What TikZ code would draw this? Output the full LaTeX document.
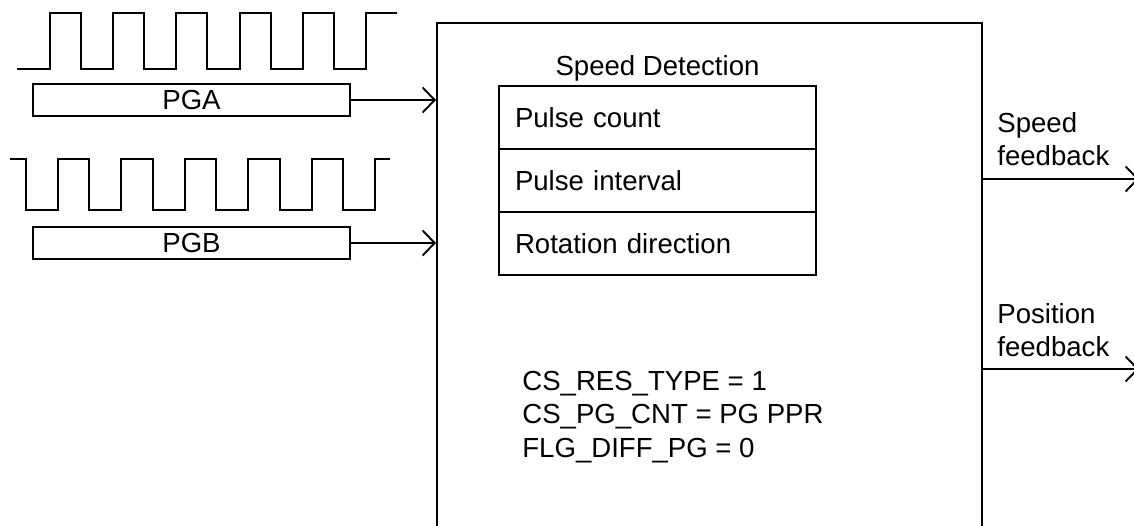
\documentclass[tikz,border=0pt]{standalone}
\usepackage{fontspec}
\setmainfont{Liberation Sans}
\usetikzlibrary{arrows.meta,positioning}
\tikzset{
    wire/.style   = {line width=1.1pt, line join=miter},
    feed/.style   = {wire, -{Straight Barb[length=0.24cm, width=0.5cm, line width=1.1pt]}},
    pgbox/.style  = {draw, line width=1.1pt, minimum width=6.34cm, minimum height=0.64cm, inner sep=0pt},
    rowbox/.style = {draw, line width=1.1pt, text width=5.7cm, inner xsep=0.32cm, inner ysep=0pt,
                     minimum height=1.26cm, align=left, outer sep=0pt},
    txt/.style    = {inner sep=0pt, align=left},
}
\begin{document}
\begin{tikzpicture}[x=0.02cm, y=-0.02cm, font=\fontsize{15.7}{19}\selectfont]
        \useasboundingbox (0,0) rectangle (1134,525);
        % pulse trains
        \draw[wire] (17,69) \foreach \k in {0,...,4} { -- ({50+63.2*\k},69) -- ({50+63.2*\k},13)
                 -- ({81+63.2*\k},13) -- ({81+63.2*\k},69) } -- (366,69) -- (366,13) -- (397,13);
        \draw[wire] (10,159) \foreach \k in {0,...,5} { -- ({26+63.4*\k},159) -- ({26+63.4*\k},210)
                 -- ({58+63.4*\k},210) -- ({58+63.4*\k},159) } -- (390,159);
        % inputs
        \node[pgbox] (pga) at (191.5,100) {PGA};
        \node[pgbox] (pgb) at (191.5,243) {PGB};
        % main block, open at the bottom
        \node[draw, line width=1.1pt, minimum width=10.9cm, minimum height=10.8cm, anchor=north west,
              inner sep=0pt] (main) at (436,22) {};
        \draw[feed] (pga.east) -- (pga.east -| main.west);
        \draw[feed] (pgb.east) -- (pgb.east -| main.west);
        % speed detection table
        \node[rowbox, anchor=north west] (cnt) at (499,86) {Pulse count};
        \node[rowbox, below=0pt of cnt]  (ivl) {Pulse interval};
        \node[rowbox, below=0pt of ivl]  (dir) {Rotation direction};
        \node[txt] (title) at (657.5,68) {Speed Detection};
        \node[txt, anchor=west] (param) at (522,417)
             {CS\_RES\_TYPE = 1\\CS\_PG\_CNT = PG PPR\\FLG\_DIFF\_PG = 0};
        % outputs
        \coordinate (spdout) at (1139,179);
        \coordinate (posout) at (1139,369);
        \draw[feed] (main.east |- spdout) -- (spdout);
        \draw[feed] (main.east |- posout) -- (posout);
        \node[txt, anchor=west] (spdlbl) at (997,139) {Speed\\feedback};
        \node[txt, anchor=west] (poslbl) at (997,330) {Position\\feedback};
        \end{tikzpicture}
\end{document}
